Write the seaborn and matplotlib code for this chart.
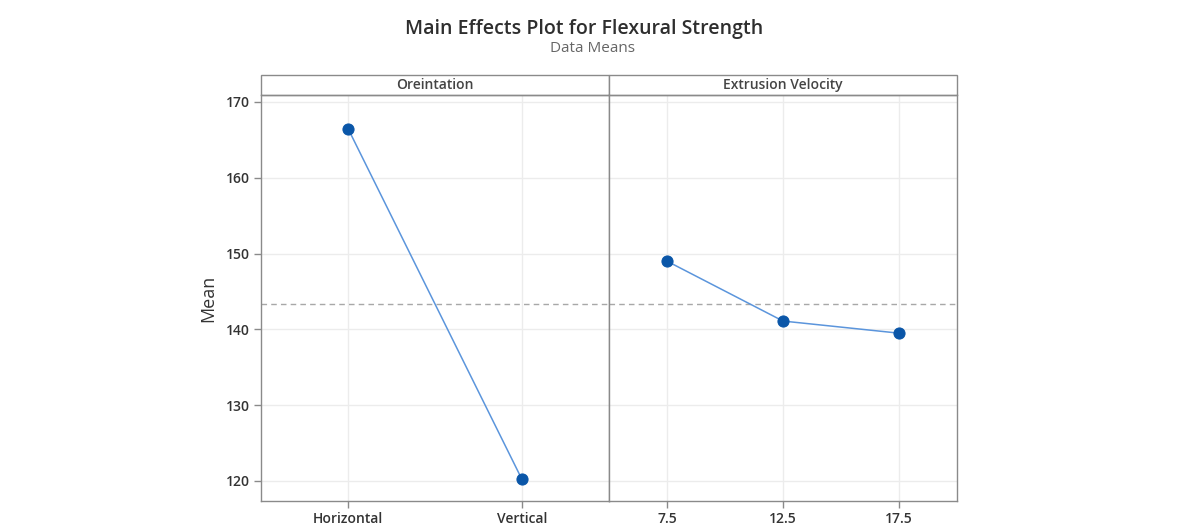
import matplotlib.pyplot as plt
import pandas as pd
import seaborn as sns
from matplotlib.patches import Rectangle

# main effects data
orient_levels = ['Horizontal', 'Vertical']
orient_means = [166.5, 120.2]
velocity_levels = ['7.5', '12.5', '17.5']
velocity_means = [149.0, 141.1, 139.5]
grand_mean = 143.3
y_ticks = [120, 130, 140, 150, 160, 170]

panels = [
    ('Oreintation', orient_levels, orient_means),
    ('Extrusion Velocity', velocity_levels, velocity_means),
]

sns.set_style('white')
plt.rcParams['font.family'] = ['Open Sans', 'DejaVu Sans']

line_color = '#5b95dc'
marker_color = '#0a56a8'
frame_color = '#8a8a8a'
grid_color = '#ececec'
text_color = '#333333'

fig = plt.figure(figsize=(11.92, 5.30), dpi=100)
left, right = 261 / 1192, 957 / 1192
bottom, top = 1 - 501 / 530, 1 - 95 / 530
width = (right - left) / 2
strip_h = 20 / 406

for i, (name, levels, means) in enumerate(panels):
    ax = fig.add_axes([left + i * width, bottom, width, top - bottom])
    df = pd.DataFrame({'level': levels, 'mean': means})
    sns.lineplot(
        data=df, x='level', y='mean', ax=ax,
        color=line_color, linewidth=1.1,
        marker='o', markersize=8,
        markerfacecolor=marker_color, markeredgecolor=marker_color,
        zorder=3,
    )
    ax.axhline(grand_mean, color='#a8a8a8', linestyle=(0, (4, 3)), linewidth=1.0, zorder=2)

    ax.set_xlim(-0.5, len(levels) - 0.5)
    ax.set_ylim(117.36, 170.92)
    ax.set_yticks(y_ticks)
    ax.set_xticks(range(len(levels)))
    ax.set_xticklabels(levels)
    ax.grid(True, color=grid_color, linewidth=1.0, zorder=0)
    ax.set_axisbelow(True)
    ax.set_xlabel('')

    for s in ax.spines.values():
        s.set_color(frame_color)
        s.set_linewidth(1.0)

    ax.tick_params(axis='x', bottom=True, direction='out', length=5, width=1.0,
                   color=frame_color, pad=3, labelsize=10, labelcolor=text_color)
    for t in ax.get_xticklabels():
        t.set_fontweight('semibold')
    if i == 0:
        ax.tick_params(axis='y', left=True, direction='out', length=5, width=1.0,
                       color=frame_color, pad=3, labelsize=10, labelcolor=text_color)
        for t in ax.get_yticklabels():
            t.set_fontweight('semibold')
        ax.set_ylabel('Mean', fontsize=13, color=text_color, labelpad=6)
    else:
        ax.tick_params(axis='y', left=False, labelleft=False)
        ax.set_ylabel('')

    # facet strip
    ax.add_patch(Rectangle((0, 1), 1, strip_h, transform=ax.transAxes,
                           facecolor='white', edgecolor=frame_color,
                           linewidth=1.0, clip_on=False))
    ax.text(0.5, 1 + strip_h / 2, name, transform=ax.transAxes,
            ha='center', va='center', fontsize=10, color='#444444',
            fontweight='semibold')

fig.text(584 / 1192, 1 - 29 / 530, 'Main Effects Plot for Flexural Strength',
         ha='center', va='center', fontsize=14, fontweight='semibold', color='#2e2e2e')
fig.text(593 / 1192, 1 - 49 / 530, 'Data Means',
         ha='center', va='center', fontsize=11, color='#666666')

plt.savefig('out.png', dpi=100)
plt.close()
